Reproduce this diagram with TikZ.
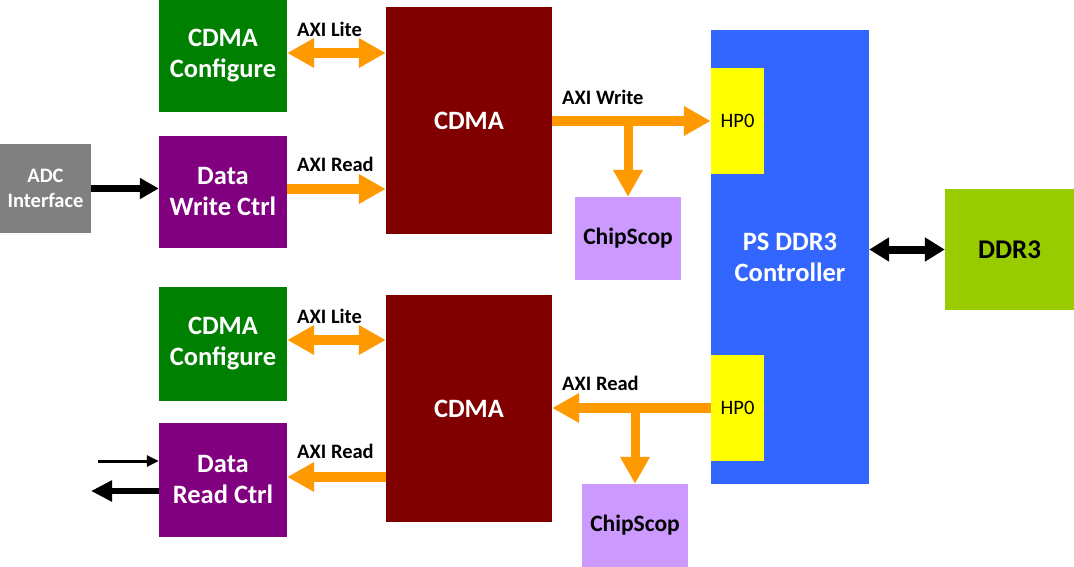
\documentclass[tikz,border=0pt]{standalone}
\usepackage{fontspec}
\setmainfont{Carlito}
\usetikzlibrary{arrows.meta}
\definecolor{cgreen}{HTML}{008000}
\definecolor{cpurple}{HTML}{800080}
\definecolor{cred}{HTML}{800000}
\definecolor{cgrey}{HTML}{808080}
\definecolor{cblue}{HTML}{3366FF}
\definecolor{cyellow}{HTML}{FFFF00}
\definecolor{clav}{HTML}{CC99FF}
\definecolor{cddr}{HTML}{99CC00}
\definecolor{corange}{HTML}{FF9900}
\tikzset{
  blk/.style={inner sep=0pt, align=center, text=white, font=\fontsize{26.5}{31}\selectfont\bfseries},
  lbl/.style={inner sep=0pt, anchor=west, font=\fontsize{20.5}{22}\selectfont\bfseries},
  oarr/.style={draw=corange, line width=10pt, -{Triangle[length=27pt,width=28pt]}},
  odarr/.style={draw=corange, line width=10pt, {Triangle[length=27pt,width=28pt]}-{Triangle[length=27pt,width=28pt]}},
  barr/.style={draw=black, line width=7pt, -{Triangle[length=19pt,width=20pt]}},
  bdarr/.style={draw=black, line width=8pt, {Triangle[length=20pt,width=23pt]}-{Triangle[length=20pt,width=23pt]}},
  tarr/.style={draw=black, line width=3pt, -{Triangle[length=12pt,width=11pt]}}
}
\begin{document}
\begin{tikzpicture}[x=1pt,y=-1pt]
\useasboundingbox (0,0) rectangle (1074,567);
% boxes
\node[blk, fill=cgreen, minimum width=128pt, minimum height=112pt] (cfg1) at (223,56) {CDMA\\Configure};
\node[blk, fill=cpurple, minimum width=128pt, minimum height=112pt] (dwc) at (223,192) {Data\\Write Ctrl};
\node[blk, fill=cgrey, minimum width=91pt, minimum height=89pt, font=\fontsize{20.5}{25}\selectfont\bfseries] (adc) at (45.5,188.5) {ADC\\Interface};
\node[blk, fill=cred, minimum width=166pt, minimum height=227pt] (cdma1) at (469,120.5) {CDMA};
\node[blk, fill=clav, text=black, minimum width=106pt, minimum height=83pt, font=\fontsize{23.5}{26}\selectfont\bfseries] (chip1) at (628,238.5) {ChipScop};
\node[blk, fill=cblue, minimum width=158pt, minimum height=454pt] (ctrl) at (790,257) {PS DDR3\\Controller};
\node[blk, fill=cyellow, text=black, minimum width=53pt, minimum height=106pt, font=\fontsize{20.5}{24}\selectfont] (hp1) at (737.5,121) {HP0};
\node[blk, fill=cyellow, text=black, minimum width=53pt, minimum height=106pt, font=\fontsize{20.5}{24}\selectfont] (hp2) at (737.5,408) {HP0};
\node[blk, fill=cddr, text=black, minimum width=129pt, minimum height=121pt, font=\fontsize{27}{30}\selectfont\bfseries] (ddr) at (1009.5,249.5) {DDR3};
\node[blk, fill=cgreen, minimum width=128pt, minimum height=114pt] (cfg2) at (223,344) {CDMA\\Configure};
\node[blk, fill=cpurple, minimum width=128pt, minimum height=114pt] (drc) at (223,480) {Data\\Read Ctrl};
\node[blk, fill=cred, minimum width=166pt, minimum height=227pt] (cdma2) at (469,408.5) {CDMA};
\node[blk, fill=clav, text=black, minimum width=106pt, minimum height=83pt, font=\fontsize{23.5}{26}\selectfont\bfseries] (chip2) at (635,525.5) {ChipScop};
% connectors
\draw[odarr] ([yshift=3pt]cfg1.east) -- ([yshift=3pt]cfg1.east -| cdma1.west);
\draw[oarr] ([yshift=3pt]dwc.east) -- ([yshift=3pt]dwc.east -| cdma1.west);
\draw[barr] (adc.east) -- (adc.east -| dwc.west);
\draw[oarr] (hp1.west -| cdma1.east) -- (hp1.west);
\draw[oarr, line width=9pt] (chip1.north |- hp1.west) -- (chip1.north);
\draw[oarr] (hp2.west) -- (hp2.west -| cdma2.east);
\draw[oarr, line width=9pt] (chip2.north |- hp2.west) -- (chip2.north);
\draw[odarr] ([yshift=4pt]cfg2.east) -- ([yshift=4pt]cfg2.east -| cdma2.west);
\draw[oarr] ([yshift=3pt]drc.east -| cdma2.west) -- ([yshift=3pt]drc.east);
\draw[bdarr] (ddr.west -| ctrl.east) -- (ddr.west);
\coordinate (in1) at (98,461);
\coordinate (out1) at (91,491);
\draw[tarr] (in1) -- (in1 -| drc.west);
\draw[barr, line width=6pt, -{Triangle[length=21pt,width=20pt]}] (out1 -| drc.west) -- (out1);
% labels
\node[lbl] (l1) at (297,29) {AXI Lite};
\node[lbl] (l2) at (297,164) {AXI Read};
\node[lbl] (l3) at (562,97) {AXI Write};
\node[lbl] (l4) at (297,316) {AXI Lite};
\node[lbl] (l5) at (297,451) {AXI Read};
\node[lbl] (l6) at (562,383) {AXI Read};
\end{tikzpicture}
\end{document}
